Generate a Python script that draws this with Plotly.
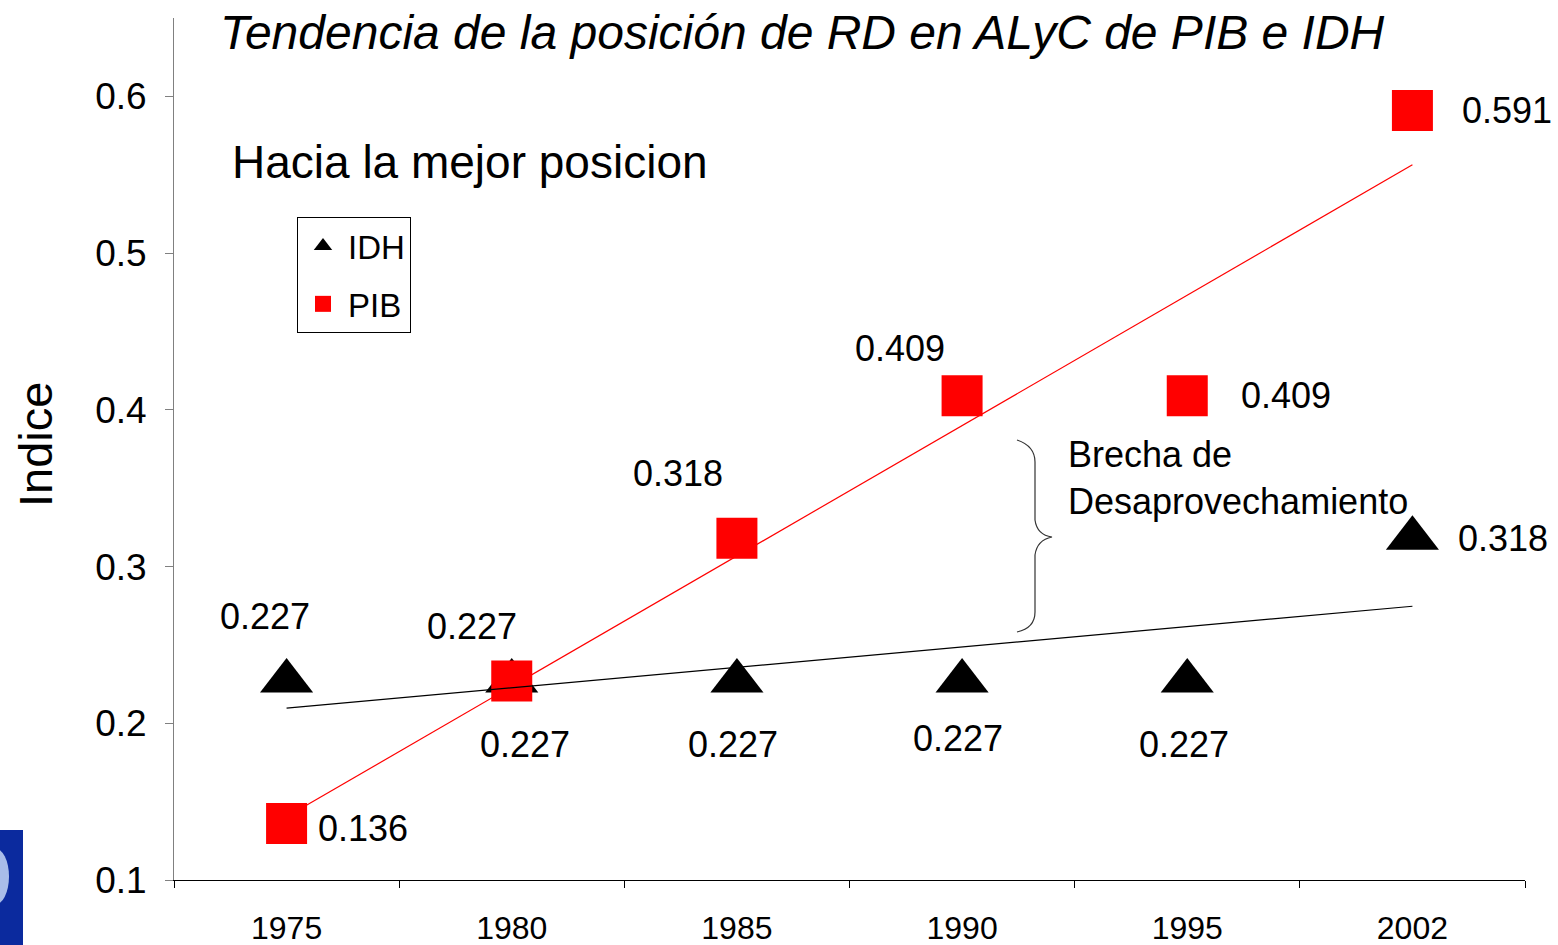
import numpy as np
import plotly.graph_objects as go

# ---------------- data ----------------
years = ["1975", "1980", "1985", "1990", "1995", "2002"]
idh = [0.227, 0.227, 0.227, 0.227, 0.227, 0.318]
pib = [0.136, 0.227, 0.318, 0.409, 0.409, 0.591]
y_ticks = [0.1, 0.2, 0.3, 0.4, 0.5, 0.6]

# label offsets in pixels (dx right, dy down) - styling
idh_label_off = [(-22, -64), (13, 64), (-4, 64), (-4, 58), (-3, 64), (91, 0)]
pib_label_off = [(76, 5), (-40, -54), (-59, -65), (-62, -47), (99, 0), (95, 0)]

FONT = "Arial, Liberation Sans, Helvetica, sans-serif"
W, H = 1558, 945
ML, MR, MT, MB = 174, 33, 18, 65
PW, PH = W - ML - MR, H - MT - MB
PLOT_LEFT = ML
PLOT_BOTTOM = H - MB


def px2paper(px, py):
    """screen pixel -> paper coords"""
    return (px - PLOT_LEFT) / PW, (PLOT_BOTTOM - py) / PH


# linear trends
xi = np.arange(len(years))
idh_fit = np.polyval(np.polyfit(xi, idh, 1), xi)
pib_fit = np.polyval(np.polyfit(xi, pib, 1), xi)

fig = go.Figure()
fig.add_trace(go.Scatter(
    x=years, y=idh, mode="markers", name="IDH", legendgroup="a",
    marker=dict(symbol="triangle-up", size=46, color="black"),
))
fig.add_trace(go.Scatter(
    x=years, y=pib, mode="markers", name="PIB", legendgroup="b",
    marker=dict(symbol="square", size=41, color="#FF0000"),
))
fig.add_trace(go.Scatter(
    x=years, y=pib_fit, mode="lines", showlegend=False,
    line=dict(color="#FF0000", width=1.2), hoverinfo="skip",
))
fig.add_trace(go.Scatter(
    x=years, y=idh_fit, mode="lines", showlegend=False,
    line=dict(color="black", width=1.2), hoverinfo="skip",
))

annotations = []
for i, (v, (dx, dy)) in enumerate(zip(idh, idh_label_off)):
    annotations.append(dict(x=i, y=v, xref="x", yref="y", text=f"{v:.3f}",
                            showarrow=False, xshift=dx, yshift=-dy,
                            font=dict(family=FONT, size=36, color="black")))
for i, (v, (dx, dy)) in enumerate(zip(pib, pib_label_off)):
    annotations.append(dict(x=i, y=v, xref="x", yref="y", text=f"{v:.3f}",
                            showarrow=False, xshift=dx, yshift=-dy,
                            font=dict(family=FONT, size=36, color="black")))

# title
tx, ty = px2paper(218, 32)
annotations.append(dict(x=tx, y=ty, xref="paper", yref="paper", xanchor="left", yanchor="middle",
                        text="<i>Tendencia de la posición de RD en ALyC de PIB e IDH</i>",
                        showarrow=False, font=dict(family=FONT, size=48, color="black")))
# subtitle
hx, hy = px2paper(230, 162)
annotations.append(dict(x=hx, y=hy, xref="paper", yref="paper", xanchor="left", yanchor="middle",
                        text="Hacia la mejor posicion", showarrow=False,
                        font=dict(family=FONT, size=46, color="black")))
# brecha
bx, by = px2paper(1066, 432)
annotations.append(dict(x=bx, y=by, xref="paper", yref="paper", xanchor="left", yanchor="top",
                        text="Brecha de<br>Desaprovechamiento", align="left", showarrow=False,
                        font=dict(family=FONT, size=36, color="black")))
# y title
ix, iy = px2paper(35, 445)
annotations.append(dict(x=ix, y=iy, xref="paper", yref="paper", xanchor="center", yanchor="middle",
                        text="Indice", textangle=-90, showarrow=False,
                        font=dict(family=FONT, size=47, color="black")))

# brace path (pixel -> paper)
pts = [(1017, 440), (1035, 446), (1035, 462), (1035, 520), (1037, 535), (1052, 537),
       (1037, 540), (1035, 555), (1035, 612), (1035, 628), (1017, 632)]
P = [px2paper(*p) for p in pts]
path = (f"M {P[0][0]},{P[0][1]} Q {P[1][0]},{P[1][1]} {P[2][0]},{P[2][1]} "
        f"L {P[3][0]},{P[3][1]} Q {P[4][0]},{P[4][1]} {P[5][0]},{P[5][1]} "
        f"Q {P[6][0]},{P[6][1]} {P[7][0]},{P[7][1]} L {P[8][0]},{P[8][1]} "
        f"Q {P[9][0]},{P[9][1]} {P[10][0]},{P[10][1]}")
shapes = [dict(type="path", path=path, xref="paper", yref="paper",
               line=dict(color="#333333", width=1.2))]

# logo fragment bottom-left
lx0, ly0 = px2paper(0, 830)
lx1, ly1 = px2paper(23, 945)
shapes.append(dict(type="rect", xref="paper", yref="paper", x0=lx0, y0=ly1, x1=lx1, y1=ly0,
                   fillcolor="#0b2a9e", line=dict(width=0), layer="above"))
cx0, cy0 = px2paper(-20, 848)
cx1, cy1 = px2paper(9, 905)
shapes.append(dict(type="circle", xref="paper", yref="paper", x0=cx0, y0=cy1, x1=cx1, y1=cy0,
                   fillcolor="#a9bde9", line=dict(width=0), layer="above"))

lgx, lgy = px2paper(297, 217)
fig.update_layout(
    width=W, height=H,
    margin=dict(l=ML, r=MR, t=MT, b=MB),
    paper_bgcolor="white", plot_bgcolor="white",
    font=dict(family=FONT, color="black"),
    showlegend=True,
    legend=dict(x=lgx, y=lgy, xanchor="left", yanchor="top",
                bordercolor="black", borderwidth=1, bgcolor="white",
                font=dict(family=FONT, size=33, color="black"),
                itemsizing="trace", itemwidth=40,
                traceorder="grouped", tracegroupgap=12),
    annotations=annotations,
    shapes=shapes,
    xaxis=dict(type="category", categoryorder="array", categoryarray=years,
               range=[-0.5, len(years) - 0.5], tickson="boundaries",
               ticks="outside", ticklen=7, tickcolor="black",
               showline=True, linecolor="black", linewidth=1,
               showgrid=False, zeroline=False, automargin=False,
               tickfont=dict(family=FONT, size=32, color="black"),
               ticklabelstandoff=20),
    yaxis=dict(range=[0.1, 0.65], tickvals=y_ticks, ticktext=[f"{v:g}" for v in y_ticks],
               ticks="outside", ticklen=8, tickcolor="#808080",
               showline=True, linecolor="#808080", linewidth=1,
               showgrid=False, zeroline=False, automargin=False,
               tickfont=dict(family=FONT, size=37, color="black"),
               ticklabelstandoff=11),
)

fig.write_html("out.html", config={"displayModeBar": False},
               post_script="document.body.style.margin='0';")
